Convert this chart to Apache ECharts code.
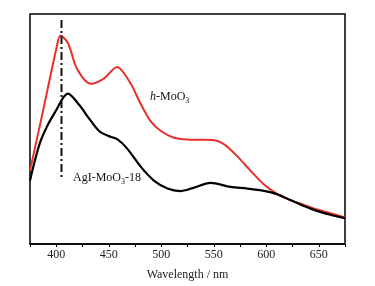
<!DOCTYPE html>
<html>
<head>
<meta charset="utf-8">
<script src="https://cdn.jsdelivr.net/npm/echarts@6/dist/echarts.min.js"></script>
<style>
  html, body { margin: 0; padding: 0; background: #fff; }
  #main { width: 375px; height: 286px; }
</style>
</head>
<body>
<div id="main"></div>
<script>
// wavelength (nm) and relative absorbance
var redX = [375, 387, 400, 404, 411, 420, 433, 445, 458, 470, 481, 490, 500, 512, 525, 537, 549, 560, 572, 585, 597, 610, 623, 636, 648, 661, 675];
var redY = [31.9, 57, 84.7, 90.6, 87.5, 76, 69.7, 71.8, 77, 70.4, 60.4, 53.3, 49, 46.2, 45.4, 45.3, 45.2, 43.3, 38.3, 31.9, 26.2, 21.9, 19.1, 17, 15.1, 13.4, 11.5];
var blackX = [375, 384, 392, 401, 406, 411, 422, 431, 441, 450, 458, 467, 481, 493, 506, 518, 530, 547, 566, 582, 598, 610, 623, 636, 648, 661, 675];
var blackY = [27.6, 43.3, 51.8, 59, 63.2, 65.4, 60.4, 54.7, 49, 46.9, 45.6, 41.8, 33.3, 27.6, 24.1, 23, 24.3, 26.6, 24.8, 24.1, 23.1, 21.7, 19.1, 16.5, 14.4, 12.7, 11.2];
var markerX = [405, 405];
var markerY = [97.4, 27.8];

function pairs(xs, ys) {
  var out = [];
  for (var i = 0; i < xs.length; i++) out.push([xs[i], ys[i]]);
  return out;
}

var serif = 'Liberation Serif';
var myChart = echarts.init(document.getElementById('main'));
myChart.setOption({
  backgroundColor: '#fff',
  animation: false,
  grid: {
    left: 30, right: 30, top: 14, bottom: 38,
    show: true, borderColor: '#000', borderWidth: 1.5
  },
  xAxis: {
    type: 'value',
    min: 375, max: 675, interval: 25,
    name: 'Wavelength / nm',
    nameLocation: 'middle',
    nameGap: 25,
    nameTextStyle: { fontFamily: serif, fontSize: 12, color: '#222' },
    axisLine: { lineStyle: { color: '#000', width: 1.5 } },
    axisTick: { show: true, length: 3, lineStyle: { color: '#000', width: 1 } },
    axisLabel: {
      fontFamily: serif, fontSize: 12, color: '#222', margin: 5,
      formatter: function (v) { return (v % 50 === 0 && v > 375 && v < 675) ? String(v) : ''; }
    },
    splitLine: { show: false }
  },
  yAxis: {
    type: 'value',
    min: 0, max: 100,
    axisLine: { show: false },
    axisTick: { show: false },
    axisLabel: { show: false },
    splitLine: { show: false }
  },
  series: [
    {
      type: 'line', data: pairs(redX, redY), smooth: 0.3, showSymbol: false,
      lineStyle: { color: '#e8302a', width: 2 }
    },
    {
      type: 'line', data: pairs(blackX, blackY), smooth: 0.3, showSymbol: false,
      lineStyle: { color: '#000', width: 2.2 }
    },
    {
      type: 'line', data: pairs(markerX, markerY), showSymbol: false,
      lineStyle: { color: '#111', width: 2, type: [8, 3, 2, 3] }
    }
  ],
  graphic: [
    {
      type: 'text', left: 150, top: 91,
      style: {
        text: '{i|h}{n|-MoO}{s|3}',
        rich: {
          i: { fontFamily: serif, fontStyle: 'italic', fontSize: 12, fill: '#111', lineHeight: 16, verticalAlign: 'middle' },
          n: { fontFamily: serif, fontSize: 12, fill: '#111', lineHeight: 16, verticalAlign: 'middle' },
          s: { fontFamily: serif, fontSize: 8, fill: '#111', lineHeight: 16, verticalAlign: 'bottom' }
        }
      }
    },
    {
      type: 'text', left: 73, top: 172,
      style: {
        text: '{n|AgI-MoO}{s|3}{n|-18}',
        rich: {
          n: { fontFamily: serif, fontSize: 12, fill: '#111', lineHeight: 16, verticalAlign: 'middle' },
          s: { fontFamily: serif, fontSize: 8, fill: '#111', lineHeight: 16, verticalAlign: 'bottom' }
        }
      }
    }
  ]
});
</script>
</body>
</html>
